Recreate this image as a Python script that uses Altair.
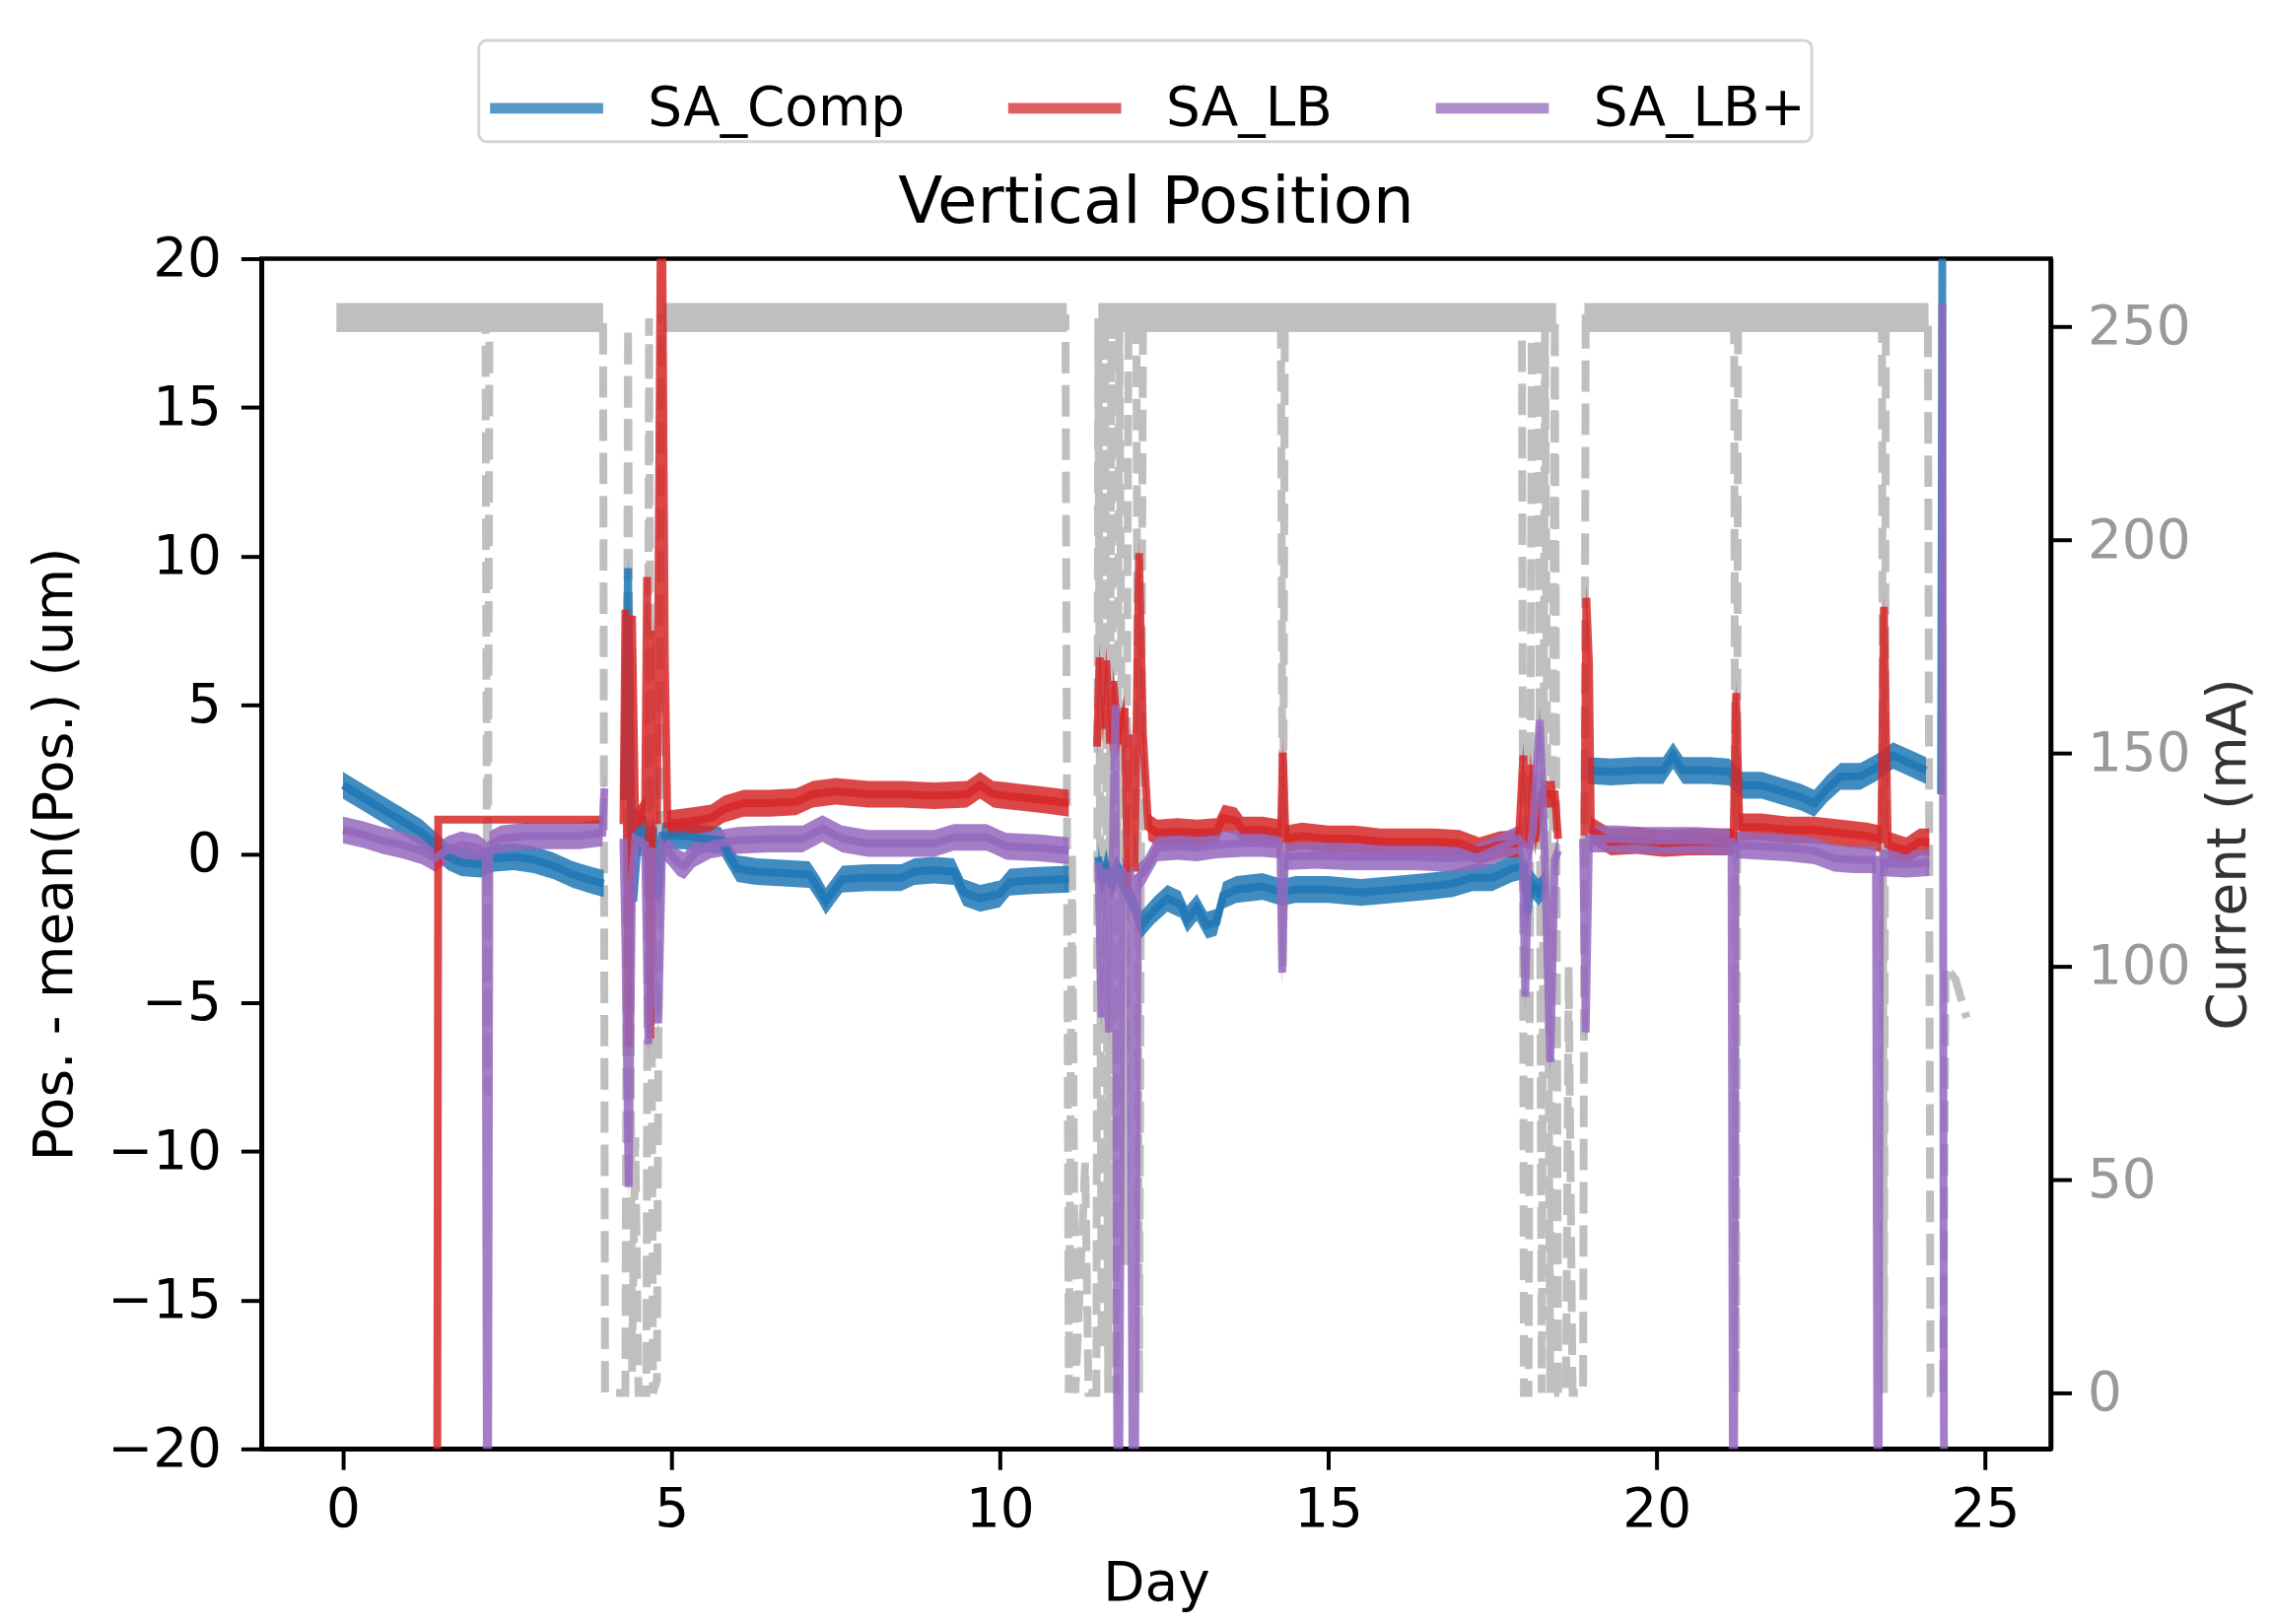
import altair as alt
import pandas as pd

# ---------------- data ----------------
DAY_TICKS = [0, 5, 10, 15, 20, 25]
POS_TICKS = [-20, -15, -10, -5, 0, 5, 10, 15, 20]
CUR_TICKS = [0, 50, 100, 150, 200, 250]
SERIES = ["SA_Comp", "SA_LB", "SA_LB+"]
COLORS = ["#1f77b4", "#d62728", "#9467bd"]

SA_COMP = [
    [(0.0, 2.3), (0.3, 1.9), (0.6, 1.5), (0.9, 1.1), (1.2, 0.7), (1.4, 0.3), (1.6, -0.1),
     (1.8, -0.3), (2.1, -0.35), (2.3, -0.15), (2.6, -0.1), (2.9, -0.2), (3.2, -0.4),
     (3.5, -0.7), (3.8, -0.9), (3.97, -1.0)],
    [(4.28, 1.8), (4.34, 9.6), (4.38, 1.8), (4.42, -1.6), (4.5, 0.8), (4.62, 0.8), (4.66, -1.6),
     (4.72, 0.9), (4.8, -1.5), (4.86, 0.6), (5.2, 0.6), (5.5, 0.5), (5.75, 0.45), (6.0, -0.5),
     (6.3, -0.6), (6.7, -0.65), (7.1, -0.7), (7.25, -1.2), (7.35, -1.6), (7.45, -1.3),
     (7.6, -0.85), (8.0, -0.8), (8.5, -0.8), (8.7, -0.6), (9.0, -0.55), (9.3, -0.6),
     (9.45, -1.3), (9.7, -1.5), (10.0, -1.35), (10.15, -0.95), (10.5, -0.9), (11.05, -0.85)],
    [(11.5, -0.1), (11.55, -1.0), (11.62, -0.3), (11.7, -1.1), (11.78, -0.5), (12.0, -1.5),
     (12.15, -2.4), (12.35, -1.9), (12.55, -1.5), (12.75, -1.7), (12.85, -2.2), (13.0, -1.8),
     (13.15, -2.4), (13.3, -2.3), (13.4, -1.4), (13.6, -1.2), (14.0, -1.1), (14.3, -1.3),
     (14.5, -1.2), (15.0, -1.2), (15.5, -1.3), (16.0, -1.2), (16.5, -1.1), (16.9, -1.0),
     (17.2, -0.8), (17.5, -0.8), (17.8, -0.5), (17.98, -0.4), (18.03, -2.0), (18.1, -1.0),
     (18.2, -1.3), (18.3, -1.0)],
    [(18.95, 2.8), (19.3, 2.75), (19.7, 2.8), (20.1, 2.8), (20.25, 3.3), (20.4, 2.8),
     (20.8, 2.8), (21.1, 2.75), (21.3, 2.3), (21.6, 2.3), (21.9, 2.1), (22.2, 1.9),
     (22.4, 1.7), (22.6, 2.2), (22.8, 2.6), (23.1, 2.6), (23.35, 2.9), (23.6, 3.3),
     (23.8, 3.1), (24.1, 2.8)],
    [(24.33, 2.0), (24.36, 30.0)],
]
SA_COMP_NOISY = [True, True, True, True, True]

SA_LB = [
    [(1.43, -30.0), (1.45, 1.15), (3.96, 1.15)],
    [(4.27, 1.0), (4.3, 8.2), (4.35, -6.5), (4.4, 8.0), (4.45, 1.0), (4.6, 1.5), (4.63, 9.3),
     (4.68, -6.2), (4.73, 7.5), (4.78, 1.0), (4.85, 25.0), (4.9, 6.7), (4.94, 1.0), (5.3, 1.1),
     (5.6, 1.2), (5.8, 1.5), (6.1, 1.7), (6.5, 1.7), (6.9, 1.75), (7.15, 2.0), (7.5, 2.1),
     (8.0, 2.0), (8.5, 2.0), (9.0, 1.95), (9.5, 2.0), (9.7, 2.3), (9.9, 2.0), (10.3, 1.9),
     (10.7, 1.8), (11.05, 1.7)],
    [(11.48, 3.6), (11.52, 6.6), (11.57, 4.2), (11.62, 6.5), (11.68, 3.7), (11.73, 5.8),
     (11.8, 3.7), (11.9, 4.9), (11.95, -1.2), (12.0, 4.0), (12.05, -0.6), (12.12, 10.1),
     (12.18, 4.0), (12.26, 0.9), (12.4, 0.7), (12.7, 0.75), (13.0, 0.7), (13.3, 0.75),
     (13.4, 1.2), (13.6, 1.1), (13.7, 0.8), (14.0, 0.8), (14.28, 0.7), (14.31, 3.4),
     (14.35, 0.5), (14.6, 0.6), (15.0, 0.5), (15.4, 0.5), (15.8, 0.4), (16.2, 0.4),
     (16.6, 0.4), (17.0, 0.35), (17.3, 0.1), (17.6, 0.3), (17.9, 0.35), (17.97, 3.3),
     (18.02, 0.2), (18.08, 3.0), (18.15, 0.4), (18.25, 2.0), (18.45, 2.0), (18.5, 0.5)],
    [(18.9, 0.6), (18.93, 8.6), (18.97, 6.4), (19.0, 0.8), (19.3, 0.4), (19.7, 0.45),
     (20.1, 0.35), (20.5, 0.4), (20.9, 0.4), (21.17, 0.4), (21.21, 5.4), (21.26, 0.9),
     (21.6, 0.9), (22.0, 0.8), (22.4, 0.8), (22.8, 0.7), (23.2, 0.6), (23.42, 0.5),
     (23.46, 8.3), (23.52, 0.3), (23.8, 0.1), (24.0, 0.4), (24.15, 0.4)],
]
SA_LB_NOISY = [False, True, True, True]

SA_LB_PLUS = [
    [(0.0, 0.8), (0.3, 0.65), (0.6, 0.45), (0.9, 0.3), (1.2, 0.1), (1.4, -0.15), (1.6, 0.15),
     (1.8, 0.3), (2.05, 0.2), (2.17, 0.0), (2.2, -30.0), (2.23, 0.3), (2.4, 0.5), (2.8, 0.6),
     (3.2, 0.6), (3.6, 0.6), (3.95, 0.7), (3.98, 2.2)],
    [(4.27, 0.5), (4.3, -3.0), (4.35, -11.2), (4.4, -1.0), (4.45, 0.5), (4.6, 0.3),
     (4.65, -6.4), (4.72, 0.2), (4.8, -5.7), (4.86, 0.3), (4.95, 0.1), (5.1, -0.3),
     (5.2, -0.4), (5.35, 0.0), (5.6, 0.3), (6.0, 0.45), (6.5, 0.5), (7.0, 0.5), (7.3, 0.85),
     (7.6, 0.5), (8.0, 0.35), (8.5, 0.35), (9.0, 0.35), (9.3, 0.55), (9.8, 0.55),
     (10.1, 0.25), (10.6, 0.2), (11.05, 0.1)],
    [(11.5, -0.3), (11.55, -5.5), (11.6, -0.5), (11.66, -6.0), (11.72, 0.0), (11.76, 5.0),
     (11.8, -30.0), (11.86, -0.5), (11.92, -1.0), (11.98, -0.8), (12.04, -30.0), (12.1, -0.8),
     (12.2, -0.6), (12.4, 0.2), (12.7, 0.25), (13.0, 0.2), (13.3, 0.3), (13.7, 0.35),
     (14.0, 0.35), (14.27, 0.3), (14.3, -4.0), (14.34, -0.1), (14.8, -0.05), (15.3, -0.1),
     (15.8, -0.1), (16.3, -0.1), (16.8, -0.15), (17.3, -0.1), (17.6, 0.2), (17.9, 0.5),
     (17.96, 0.3), (18.0, -4.8), (18.05, 0.0), (18.12, 0.8), (18.22, 4.5), (18.3, -0.3),
     (18.38, -7.0), (18.45, -0.2), (18.5, 0.1)],
    [(18.88, 0.5), (18.92, -6.0), (18.97, 0.5), (19.4, 0.5), (19.8, 0.45), (20.2, 0.45),
     (20.6, 0.45), (21.0, 0.4), (21.14, 0.4), (21.17, -30.0), (21.2, 0.3), (21.6, 0.25),
     (22.0, 0.2), (22.4, 0.1), (22.7, -0.15), (23.0, -0.2), (23.34, -0.2), (23.37, -30.0),
     (23.4, -0.3), (23.8, -0.35), (24.15, -0.3)],
    [(24.35, 18.5), (24.38, -30.0)],
]
SA_LB_PLUS_NOISY = [True, True, True, True, True]

# half thickness of the noise band of the position traces (um)
NOISE_HALF = 0.45

# beam current (mA), dashed grey trace
CURRENT = [
    (-0.05, 252), (2.17, 252), (2.2, 70), (2.23, 252), (3.96, 252), (3.99, 0), (4.3, 0),
    (4.34, 250), (4.4, 5), (4.45, 60), (4.5, 0), (4.62, 0), (4.66, 252), (4.72, 0), (4.78, 3),
    (4.85, 252), (4.92, 252), (11.0, 252), (11.05, 0), (11.1, 127), (11.15, 0), (11.3, 54),
    (11.35, 0), (11.47, 0), (11.5, 252), (11.55, 10), (11.6, 252), (11.65, 0), (11.7, 252),
    (11.76, 0), (11.82, 252), (11.9, 30), (11.96, 252), (12.08, 252), (12.12, 0), (12.18, 252),
    (14.28, 252), (14.31, 100), (14.34, 252), (17.95, 252), (17.98, 0), (18.05, 0),
    (18.1, 252), (18.2, 252), (18.25, 0), (18.3, 252), (18.38, 0), (18.45, 252), (18.5, 0),
    (18.62, 0), (18.66, 100), (18.72, 0), (18.88, 0), (18.92, 252), (21.18, 252), (21.21, 0),
    (21.24, 252), (23.43, 252), (23.46, 0), (23.49, 252), (24.13, 252), (24.17, 0),
    (24.36, 0), (24.4, 100), (24.55, 97), (24.72, 88),
]
# noisy "beam on" plateaus of the current
BEAM_ON_START = [-0.1, 4.88, 11.5, 18.9]
BEAM_ON_END = [3.96, 11.02, 18.47, 24.14]
BEAM_ON_LOW = [248.8, 248.8, 248.8, 248.8]
BEAM_ON_HIGH = [255.6, 255.6, 255.6, 255.6]

# ---------------- tables ----------------
rows = []
for name, segs, flags in [("SA_Comp", SA_COMP, SA_COMP_NOISY),
                          ("SA_LB", SA_LB, SA_LB_NOISY),
                          ("SA_LB+", SA_LB_PLUS, SA_LB_PLUS_NOISY)]:
    for i, (seg, noisy) in enumerate(zip(segs, flags)):
        for d, v in seg:
            rows.append({"series": name, "seg": f"{name}-{i}", "day": d, "value": v,
                         "noisy": noisy})
pos_df = pd.DataFrame(rows)
band_df = pos_df[pos_df["noisy"]].copy()
band_df["lo"] = band_df["value"] - NOISE_HALF
band_df["hi"] = band_df["value"] + NOISE_HALF

cur_df = pd.DataFrame(CURRENT, columns=["day", "mA"])
plateau_df = pd.DataFrame({"start": BEAM_ON_START, "end": BEAM_ON_END,
                           "lo": BEAM_ON_LOW, "hi": BEAM_ON_HIGH})

FONT = "DejaVu Sans"
W, H = 1820, 1211

x_scale = alt.Scale(domain=[-1.24, 26.0], nice=False, zero=False)
x_axis = alt.Axis(values=DAY_TICKS, title="Day", labelPadding=14,
                  titleY=154, titleBaseline="alphabetic")
pos_scale = alt.Scale(domain=[-20, 20], nice=False, zero=False)
pos_axis = alt.Axis(orient="left", values=POS_TICKS, title="Pos. - mean(Pos.) (um)",
                    labelPadding=20, titleAngle=-90, titleX=-193, titleY=H / 2,
                    titleAlign="center", titleBaseline="alphabetic")
cur_scale = alt.Scale(domain=[-13.1, 266.0], nice=False, zero=False)
cur_axis = alt.Axis(orient="right", values=CUR_TICKS, title="Current (mA)",
                    labelColor="#999999", titleColor="#333333", labelPadding=16,
                    titleAngle=-90, titleX=197, titleY=H / 2, titleAlign="center",
                    titleBaseline="alphabetic")
color_scale = alt.Scale(domain=SERIES, range=COLORS)
legend = alt.Legend(orient="none", legendX=221, legendY=-222, direction="horizontal",
                    columns=3, title=None, symbolType="stroke", symbolSize=13225,
                    symbolStrokeWidth=11, symbolOpacity=0.75, labelFontSize=55,
                    labelFont=FONT, labelColor="black", labelOffset=40, labelLimit=600,
                    columnPadding=82, padding=6, strokeColor="#d5d5d5",
                    fillColor="white", cornerRadius=8)

plateau = alt.Chart(plateau_df).mark_rect(color="#bfbfbf", clip=True).encode(
    x=alt.X("start:Q", scale=x_scale, axis=x_axis),
    x2="end:Q",
    y=alt.Y("lo:Q", scale=cur_scale, axis=cur_axis),
    y2="hi:Q",
)
cur_line = alt.Chart(cur_df).mark_line(color="#bfbfbf", strokeWidth=8,
                                       strokeDash=[32, 12], clip=True).encode(
    x=alt.X("day:Q", scale=x_scale, axis=x_axis),
    y=alt.Y("mA:Q", scale=cur_scale, axis=cur_axis),
)
cur_layer = alt.layer(plateau, cur_line)

bands = alt.Chart(band_df).mark_area(opacity=0.85, clip=True).encode(
    x=alt.X("day:Q", scale=x_scale, axis=x_axis),
    y=alt.Y("lo:Q", scale=pos_scale, axis=pos_axis),
    y2="hi:Q",
    color=alt.Color("series:N", scale=color_scale, legend=legend),
    detail="seg:N",
)
lines = alt.Chart(pos_df).mark_line(opacity=0.85, strokeWidth=8, clip=True).encode(
    x=alt.X("day:Q", scale=x_scale, axis=x_axis),
    y=alt.Y("value:Q", scale=pos_scale, axis=pos_axis),
    color=alt.Color("series:N", scale=color_scale, legend=legend),
    detail="seg:N",
)
pos_layer = alt.layer(bands, lines)

chart = alt.layer(cur_layer, pos_layer).resolve_scale(y="independent").properties(
    width=W,
    height=H,
    title=alt.TitleParams(text="Vertical Position", fontSize=66, font=FONT,
                          fontWeight="normal", anchor="middle", baseline="alphabetic",
                          offset=-253, frame="group", color="black"),
    autosize=alt.AutoSizeParams(type="none"),
    padding={"left": 258, "top": 253, "right": 214, "bottom": 168},
).configure_view(
    stroke="black", strokeWidth=4.5
).configure_axis(
    labelFont=FONT, labelFontSize=55, labelColor="black",
    titleFont=FONT, titleFontSize=55, titleFontWeight="normal", titleColor="black",
    tickSize=21, tickWidth=4, tickColor="black",
    domainColor="black", domainWidth=4.5, grid=False, zindex=1,
).configure_legend(
    strokeWidth=3
)

chart.save("out.html", embed_options={"renderer": "svg", "actions": False})
